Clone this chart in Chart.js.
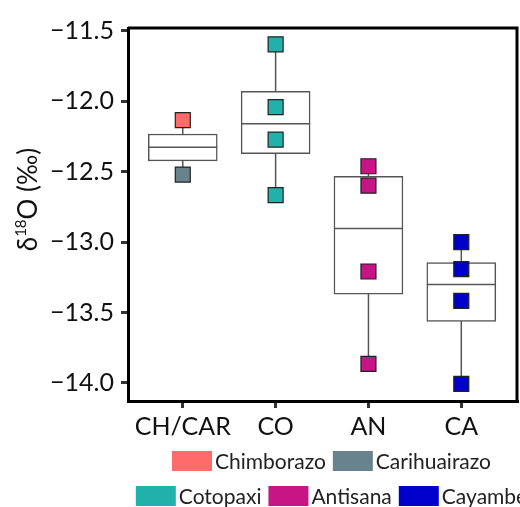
<!DOCTYPE html>
<html>
<head>
<meta charset="utf-8">
<script src="https://cdn.jsdelivr.net/npm/chart.js@4"></script>
<style>
    html, body { margin: 0; padding: 0; background: #fff; overflow: hidden; }
    #wrap { width: 520px; height: 507px; }
</style>
</head>
<body>
<div id="wrap"><canvas id="chart"></canvas></div>
<script>
// Kategóriák és tengely
const categories = ['CH/CAR', 'CO', 'AN', 'CA'];
const yTicks = [-14.0, -13.5, -13.0, -12.5, -12.0, -11.5];

// Dobozok: alsó / felső kvartilis, medián, bajusz végek
const boxLow = [-12.424, -12.372, -13.370, -13.564];
const boxHigh = [-12.233, -11.930, -12.533, -13.145];
const medians = [-12.327, -12.160, -12.904, -13.301];
const whiskerLow = [-12.521, -12.667, -13.864, -14.006];
const whiskerHigh = [-12.135, -11.597, -12.462, -13.000];

// Vulkánok mérési pontjai
const seriesNames = ['Chimborazo', 'Carihuairazo', 'Cotopaxi', 'Antisana', 'Cayambe'];
const seriesColors = ['#FF6A6A', '#68838B', '#20B2AA', '#C71585', '#0000CD'];
const seriesGroup = [0, 0, 1, 2, 3];
const chimborazo = [-12.135];
const carihuairazo = [-12.521];
const cotopaxi = [-11.597, -12.043, -12.273, -12.667];
const antisana = [-12.462, -12.600, -13.209, -13.864];
const cayambe = [-13.000, -13.192, -13.417, -14.006];
const seriesValues = [chimborazo, carihuairazo, cotopaxi, antisana, cayambe];

const legendRows = [[0, 1], [2, 3, 4]];

const boxLine = '#555';
const fontFamily = 'Lato, "Open Sans", sans-serif';

// Bajuszok a dobozok alatt, mediánok a dobozokon
const boxPlotLines = {
    id: 'boxPlotLines',
    beforeDatasetsDraw(chart) {
        const { ctx, scales: { x, y } } = chart;
        ctx.save();
        ctx.strokeStyle = boxLine;
        ctx.lineWidth = 1.5;
        categories.forEach((c, i) => {
            const px = x.getPixelForValue(i);
            ctx.beginPath();
            ctx.moveTo(px, y.getPixelForValue(whiskerLow[i]));
            ctx.lineTo(px, y.getPixelForValue(whiskerHigh[i]));
            ctx.stroke();
        });
        ctx.restore();
    },
    afterDatasetDraw(chart, args) {
        if (args.meta.type !== 'bar') return;
        const { ctx, scales: { y } } = chart;
        ctx.save();
        ctx.strokeStyle = boxLine;
        ctx.lineWidth = 1.5;
        args.meta.data.forEach((bar, i) => {
            const py = y.getPixelForValue(medians[i]);
            ctx.beginPath();
            ctx.moveTo(bar.x - bar.width / 2, py);
            ctx.lineTo(bar.x + bar.width / 2, py);
            ctx.stroke();
        });
        ctx.restore();
    }
};

// Felső és jobb oldali keret
const frame = {
    id: 'frame',
    afterDatasetsDraw(chart) {
        const { ctx, chartArea: a } = chart;
        ctx.save();
        ctx.strokeStyle = '#000';
        ctx.lineWidth = 3;
        ctx.beginPath();
        ctx.moveTo(a.left, a.top);
        ctx.lineTo(a.right, a.top);
        ctx.lineTo(a.right, a.bottom);
        ctx.stroke();
        ctx.restore();
    }
};

// Y tengely felirat, felső indexszel
const yTitle = {
    id: 'yTitle',
    afterDraw(chart) {
        const { ctx, chartArea: a } = chart;
        const parts = [['δ', 26, 0], ['18', 15, -11], ['O (‰)', 26, 0]];
        ctx.save();
        ctx.translate(37, (a.top + a.bottom) / 2 - 15);
        ctx.rotate(-Math.PI / 2);
        ctx.fillStyle = '#111';
        ctx.textBaseline = 'alphabetic';
        const widths = parts.map(([t, size]) => {
            ctx.font = size + 'px ' + fontFamily;
            return ctx.measureText(t).width;
        });
        let x = -widths.reduce((s, w) => s + w, 0) / 2;
        parts.forEach(([t, size, dy], k) => {
            ctx.font = size + 'px ' + fontFamily;
            ctx.fillText(t, x, dy);
            x += widths[k];
        });
        ctx.restore();
    }
};

// Jelmagyarázat a diagram alatt
const bottomLegend = {
    id: 'bottomLegend',
    afterDraw(chart) {
        const { ctx, chartArea: a } = chart;
        const sw = 40, sh = 20, gap = 3, itemGap = 7;
        const rowTops = [a.bottom + 50, a.bottom + 85];
        const centerX = (a.left + a.right) / 2 + 9;
        ctx.save();
        ctx.font = '21px ' + fontFamily;
        ctx.textBaseline = 'middle';
        legendRows.forEach((row, r) => {
            const widths = row.map(i => sw + gap + ctx.measureText(seriesNames[i]).width);
            const total = widths.reduce((s, w) => s + w, 0) + itemGap * (row.length - 1);
            let x = centerX - total / 2;
            row.forEach((i, k) => {
                ctx.fillStyle = seriesColors[i];
                ctx.fillRect(x, rowTops[r], sw, sh);
                ctx.fillStyle = '#222';
                ctx.fillText(seriesNames[i], x + sw + gap, rowTops[r] + sh / 2 + 1);
                x += widths[k] + itemGap;
            });
        });
        ctx.restore();
    }
};

const datasets = seriesNames.map((name, s) => ({
    type: 'scatter',
    label: name,
    data: seriesValues[s].map(v => ({ x: seriesGroup[s], y: v })),
    pointStyle: 'rect',
    pointRadius: 10.6,
    pointHoverRadius: 10.6,
    backgroundColor: seriesColors[s],
    borderColor: '#222',
    borderWidth: 1.2,
    order: 0
}));

datasets.push({
    type: 'bar',
    label: 'box',
    data: categories.map((c, i) => ({ x: i, y: [boxLow[i], boxHigh[i]] })),
    backgroundColor: '#fff',
    borderColor: boxLine,
    borderWidth: 1.5,
    borderSkipped: false,
    barThickness: 69,
    order: 10
});

new Chart(document.getElementById('chart'), {
    type: 'scatter',
    data: { datasets },
    options: {
        responsive: true,
        maintainAspectRatio: false,
        animation: false,
        layout: { autoPadding: false, padding: { top: 28, right: 3, bottom: 66, left: 0 } },
        plugins: {
            legend: { display: false },
            tooltip: { enabled: false }
        },
        scales: {
            x: {
                type: 'linear',
                min: -0.59,
                max: 3.6,
                offset: false,
                afterBuildTicks: scale => { scale.ticks = categories.map((c, i) => ({ value: i })); },
                afterFit: scale => { scale.height = 40; },
                ticks: {
                    callback: v => categories[v],
                    color: '#111',
                    padding: 4,
                    font: { family: fontFamily, size: 25 },
                    maxRotation: 0
                },
                grid: { drawOnChartArea: false, offset: false, tickLength: 7, lineWidth: 3, color: '#333' },
                border: { display: true, width: 3, color: '#000' }
            },
            y: {
                min: -14.128,
                max: -11.481,
                afterBuildTicks: scale => { scale.ticks = yTicks.map(v => ({ value: v })); },
                afterFit: scale => { scale.width = 128; },
                ticks: {
                    callback: v => '\u2212' + Math.abs(v).toFixed(1),
                    color: '#111',
                    padding: 7,
                    font: { family: fontFamily, size: 25 }
                },
                grid: { drawOnChartArea: false, tickLength: 7, lineWidth: 3, color: '#333' },
                border: { display: true, width: 3, color: '#000' }
            }
        }
    },
    plugins: [boxPlotLines, frame, yTitle, bottomLegend]
});
</script>
</body>
</html>
